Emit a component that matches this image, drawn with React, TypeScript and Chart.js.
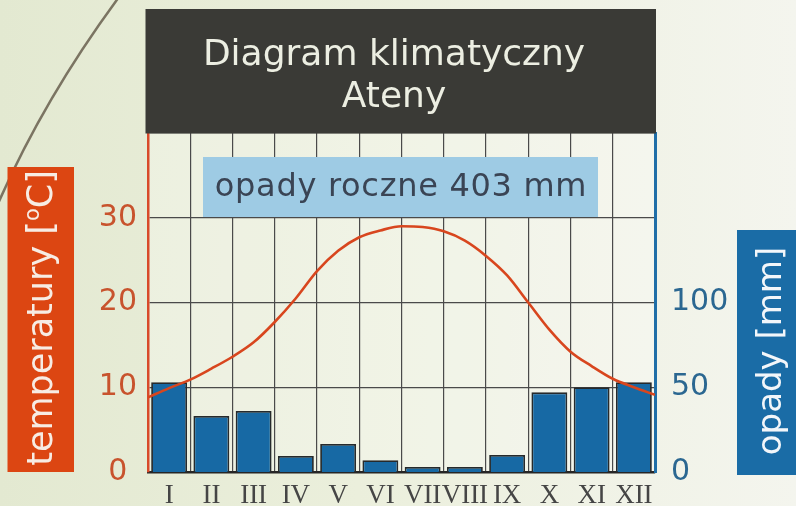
import React, { useEffect, useRef } from 'react';
import { Chart, registerables } from 'chart.js';

Chart.register(...registerables);

// ---- data ----
const months = ['I', 'II', 'III', 'IV', 'V', 'VI', 'VII', 'VIII', 'IX', 'X', 'XI', 'XII'];
const precipitation = [53, 33, 36, 9.5, 16.5, 7, 3, 3, 10, 47, 50, 53]; // mm
// temperature curve read at the middle of every month (°C)
const temperatureMid = [9.9, 12.2, 15.3, 20.5, 26.1, 28.5, 28.9, 27.3, 23.2, 16.8, 12.5, 10.0];
// temperature curve read at the month boundaries (grid lines), from start of I to end of XII (°C)
const temperatureEdge = [8.8, 10.9, 13.6, 17.7, 23.7, 27.7, 29.0, 28.4, 25.5, 20.0, 14.2, 11.0, 9.1];
const temperatureTicks = [0, 10, 20, 30];
const precipitationTicks = [0, 50, 100];
const titleLines = ['Diagram klimatyczny', 'Ateny'];
const annualLabel = 'opady roczne 403 mm';
const tempAxisLabel = ['temperatury [', 'o', 'C]'];
const precipAxisLabel = 'opady [mm]';

const FONT = '"DejaVu Sans", Verdana, sans-serif';

const decorPlugin = {
  id: 'decor',
  beforeDraw(chart: any) {
    const { ctx, chartArea: a } = chart;
    ctx.save();
    ctx.fillStyle = 'rgba(255,255,255,0.25)';
    ctx.fillRect(a.left, a.top, a.right - a.left, a.bottom - a.top);
    // decorative arc top-left
    ctx.strokeStyle = '#7b7462';
    ctx.lineWidth = 2.5;
    ctx.beginPath();
    ctx.moveTo(119, -3);
    ctx.quadraticCurveTo(43, 100, -3, 206);
    ctx.stroke();
    ctx.restore();
  },
  afterDraw(chart: any) {
    const { ctx, chartArea: a } = chart;
    ctx.save();
    // title box
    ctx.fillStyle = '#3a3a36';
    ctx.fillRect(a.left - 2.5, 9, a.right - a.left + 3.5, a.top - 9 + 0.5);
    ctx.fillStyle = '#eceee2';
    ctx.font = '36px ' + FONT;
    ctx.textAlign = 'center';
    ctx.textBaseline = 'alphabetic';
    ctx.fillText(titleLines[0], 394, 65);
    ctx.fillText(titleLines[1], 394, 107);

    // annual precipitation box
    ctx.fillStyle = '#9ecbe4';
    ctx.fillRect(203, 157, 395, 60);
    ctx.fillStyle = '#3a4454';
    ctx.font = '32px ' + FONT;
    (ctx as any).letterSpacing = '0.7px';
    ctx.fillText(annualLabel, 401, 196);
    (ctx as any).letterSpacing = '0px';

    // left axis label box
    ctx.fillStyle = '#dc4612';
    ctx.fillRect(7.5, 167, 66.5, 305);
    ctx.save();
    ctx.translate(52, 318);
    ctx.rotate(-Math.PI / 2);
    const big = '35px ' + FONT;
    const small = '21px ' + FONT;
    ctx.textAlign = 'left';
    ctx.font = big;
    const w1 = ctx.measureText(tempAxisLabel[0]).width;
    const w3 = ctx.measureText(tempAxisLabel[2]).width;
    ctx.font = small;
    const w2 = ctx.measureText(tempAxisLabel[1]).width;
    let x = -(w1 + w2 + w3) / 2;
    ctx.fillStyle = '#f7ece4';
    ctx.font = big;
    ctx.fillText(tempAxisLabel[0], x, 0);
    x += w1;
    ctx.font = small;
    ctx.fillText(tempAxisLabel[1], x, -13);
    x += w2;
    ctx.font = big;
    ctx.fillText(tempAxisLabel[2], x, 0);
    ctx.restore();

    // right axis label box
    ctx.fillStyle = '#1a6ca6';
    ctx.fillRect(737, 230, 60, 245);
    ctx.save();
    ctx.translate(781, 351);
    ctx.rotate(-Math.PI / 2);
    ctx.fillStyle = '#f2f6fa';
    ctx.font = '34px ' + FONT;
    ctx.textAlign = 'center';
    ctx.fillText(precipAxisLabel, 0, 0);
    ctx.restore();

    ctx.restore();
  },
};

export default function App() {
  const ref = useRef<HTMLCanvasElement | null>(null);

  useEffect(() => {
    if (!ref.current) return;
    const linePoints: { x: number; y: number }[] = [];
    temperatureEdge.forEach((t, i) => {
      linePoints.push({ x: i, y: t });
      if (i < temperatureMid.length) linePoints.push({ x: i + 0.5, y: temperatureMid[i] });
    });
    const chart = new Chart(ref.current, {
      type: 'bar',
      data: {
        labels: months,
        datasets: [
          {
            type: 'line',
            data: linePoints as any,
            xAxisID: 'xl',
            yAxisID: 'y',
            borderColor: '#d8461e',
            borderWidth: 2.6,
            pointRadius: 0,
            cubicInterpolationMode: 'monotone',
            order: 0,
          } as any,
          {
            type: 'bar',
            data: precipitation,
            xAxisID: 'x',
            yAxisID: 'yr',
            backgroundColor: '#1769a4',
            borderColor: '#262a2c',
            borderWidth: 1.8,
            barPercentage: 0.85,
            categoryPercentage: 1,
            grouped: false,
            order: 1,
          },
        ],
      },
      options: {
        responsive: false,
        animation: false,
        devicePixelRatio: 1,
        layout: { padding: { top: 133, left: 0, right: 0, bottom: 0 } },
        plugins: { legend: { display: false }, tooltip: { enabled: false }, title: { display: false } },
        scales: {
          x: {
            type: 'category',
            position: 'bottom',
            offset: true,
            afterFit: (s: any) => { s.height = 34; },
            grid: {
              offset: true,
              drawTicks: false,
              lineWidth: 1.2,
              color: (c: any) => (c.type !== 'tick' || c.index === 0 ? 'rgba(0,0,0,0)' : '#4a4a4a'),
            },
            border: { display: true, color: '#262626', width: 2.5 },
            ticks: {
              autoSkip: false,
              maxRotation: 0,
              minRotation: 0,
              padding: 8,
              color: '#454545',
              font: { family: '"Liberation Serif", "DejaVu Serif", serif', size: 27 },
            },
          },
          xl: {
            type: 'linear',
            display: false,
            offset: false,
            min: 0,
            max: months.length,
            grid: { offset: false },
          },
          y: {
            type: 'linear',
            position: 'left',
            min: 0,
            max: 40,
            afterFit: (s: any) => { s.width = 148; },
            afterBuildTicks: (s: any) => {
              s.ticks = [...temperatureTicks, 40].map((v) => ({ value: v }));
            },
            grid: { drawTicks: false, color: '#4a4a4a', lineWidth: 1.2 },
            border: { display: true, color: '#d84a2a', width: 2.5 },
            ticks: {
              crossAlign: 'center',
              padding: 11,
              color: '#c8532d',
              font: { family: FONT, size: 30 },
              callback: (v: any) => (temperatureTicks.includes(Number(v)) ? String(v) : ''),
            },
          },
          yr: {
            type: 'linear',
            position: 'right',
            min: 0,
            max: 200,
            afterFit: (s: any) => { s.width = 141; },
            afterBuildTicks: (s: any) => {
              s.ticks = precipitationTicks.map((v) => ({ value: v }));
            },
            grid: { display: false, drawTicks: false },
            border: { display: true, color: '#1f6ea8', width: 3 },
            ticks: {
              crossAlign: 'near',
              padding: 16,
              color: '#2b6791',
              font: { family: FONT, size: 30 },
              callback: (v: any) => String(v),
            },
          },
        },
      } as any,
      plugins: [decorPlugin],
    });
    return () => chart.destroy();
  }, []);

  return (
    <div
      style={{
        position: 'fixed',
        left: 0,
        top: 0,
        width: 796,
        height: 506,
        background: 'linear-gradient(90deg, #e3e9d1 0%, #ebefdc 45%, #f4f5ee 100%)',
      }}
    >
      <canvas ref={ref} width={796} height={506} style={{ display: 'block', width: 796, height: 506 }} />
    </div>
  );
}
